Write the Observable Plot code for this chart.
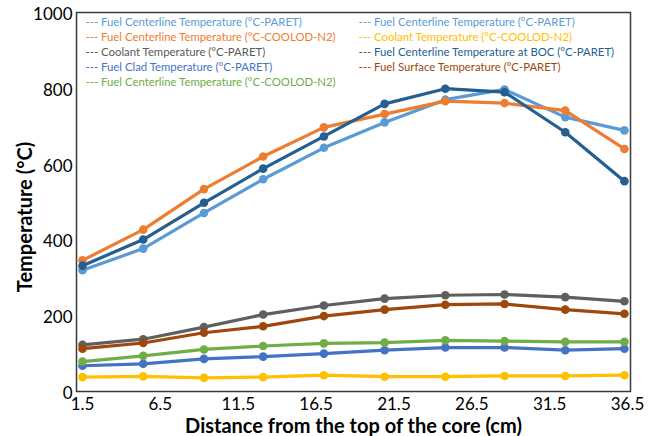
<!DOCTYPE html>
<html>
<head>
<meta charset="utf-8">
<script src="https://cdn.jsdelivr.net/npm/d3@7"></script>
<script src="https://cdn.jsdelivr.net/npm/@observablehq/plot@0.6"></script>
<style>
  html, body { margin: 0; padding: 0; background: #fff; }
  #chart svg { display: block; }
</style>
</head>
<body>
<div id="chart"></div>
<script>
// Distance from the top of the core (cm)
const distance = [1.5, 5.4, 9.3, 13.1, 17.0, 20.9, 24.8, 28.6, 32.5, 36.3];

// Series values (°C)
const fuelCenterlineParet   = [320, 377, 471, 560, 643, 710, 770, 797, 724, 689];
const fuelCenterlineCoolod  = [346, 427, 534, 620, 697, 732, 766, 761, 741, 640];
const fuelCenterlineBOC     = [332, 401, 498, 588, 673, 759, 799, 790, 684, 555];
const coolantParet          = [123, 138, 170, 203, 227, 245, 254, 256, 249, 238];
const fuelSurfaceParet      = [113, 128, 155, 172, 199, 216, 229, 231, 216, 205];
const fuelCenterlineCoolod2 = [79, 94, 111, 120, 127, 129, 135, 133, 131, 131];
const fuelCladParet         = [68, 73, 86, 92, 100, 109, 116, 116, 109, 113];
const coolantCoolod         = [38, 40, 36, 38, 43, 39, 39, 41, 41, 43];

const xTicks = [1.5, 6.5, 11.5, 16.5, 21.5, 26.5, 31.5, 36.5];
const yTicks = [0, 200, 400, 600, 800, 1000];

const seriesNames = ["FC-PARET", "FC-COOLOD", "Coolant-PARET", "Clad-PARET", "FC-COOLOD-2", "Coolant-COOLOD", "FC-BOC", "Surface-PARET"];
const seriesColors = ["#5B9BD5", "#ED7D31", "#5F5F5F", "#4472C4", "#70AD47", "#FFC000", "#255E91", "#9E480E"];
const seriesValues = [fuelCenterlineParet, fuelCenterlineCoolod, coolantParet, fuelCladParet,
                      fuelCenterlineCoolod2, coolantCoolod, fuelCenterlineBOC, fuelSurfaceParet];

// Legend entries (two columns)
const legendCol1 = [
  {label: "--- Fuel Centerline Temperature (°C-PARET)", color: "#5B9BD5"},
  {label: "--- Fuel Centerline Temperature (°C-COOLOD-N2)", color: "#ED7D31"},
  {label: "--- Coolant Temperature (°C-PARET)", color: "#595959"},
  {label: "--- Fuel Clad Temperature (°C-PARET)", color: "#4472C4"},
  {label: "--- Fuel Centerline Temperature (°C-COOLOD-N2)", color: "#70AD47"}
];
const legendCol2 = [
  {label: "--- Fuel Centerline Temperature (°C-PARET)", color: "#5B9BD5"},
  {label: "--- Coolant Temperature (°C-COOLOD-N2)", color: "#FFC000"},
  {label: "--- Fuel Centerline Temperature at BOC (°C-PARET)", color: "#255E91"},
  {label: "--- Fuel Surface Temperature (°C-PARET)", color: "#9E480E"}
];

const rows = [];
seriesNames.forEach((name, si) => {
  seriesValues[si].forEach((v, i) => rows.push({series: name, x: distance[i], y: v}));
});

const FONT = "Lato, 'Open Sans', sans-serif";
const legendMarks = [];
const rowGap = 15.15;
legendCol1.forEach((d, i) => legendMarks.push(Plot.text([d.label], {
  frameAnchor: "top-left", dx: 9, dy: 9.7 + i * rowGap, text: d => d,
  fill: d.color, fontSize: 11.35, textAnchor: "start", lineAnchor: "middle"
})));
legendCol2.forEach((d, i) => legendMarks.push(Plot.text([d.label], {
  frameAnchor: "top-left", dx: 282, dy: 9.7 + i * rowGap, text: d => d,
  fill: d.color, fontSize: 11.35, textAnchor: "start", lineAnchor: "middle"
})));

const chart = Plot.plot({
  width: 657,
  height: 436,
  marginLeft: 76,
  marginRight: 27,
  marginTop: 12,
  marginBottom: 45,
  style: {fontFamily: FONT, background: "#fff", overflow: "visible"},
  x: {domain: [1.115, 36.69]},
  y: {domain: [0, 1000]},
  color: {domain: seriesNames, range: seriesColors},
  marks: [
    Plot.axisX({ticks: xTicks, tickSize: 0, tickPadding: 6, tickFormat: d => String(d),
                fontSize: 17, fill: "#000", label: null}),
    Plot.axisY({ticks: yTicks, tickSize: 0, tickPadding: 4, dy: 2, tickFormat: d => String(d),
                fontSize: 17, fill: "#000", label: null}),
    Plot.text(["Distance from the top of the core (cm)"], {
      frameAnchor: "bottom", dy: 35, lineAnchor: "middle", text: d => d,
      fontSize: 20, fontWeight: "bold", fill: "#000"
    }),
    Plot.text(["Temperature (°C)"], {
      frameAnchor: "left", dx: -51, dy: 15, rotate: -90, textAnchor: "middle", lineAnchor: "middle",
      text: d => d, fontSize: 20, fontWeight: "bold", fill: "#000"
    }),
    Plot.line(rows, {x: "x", y: "y", z: "series", stroke: "series", strokeWidth: 3.2, strokeLinejoin: "round"}),
    Plot.dot(rows, {x: "x", y: "y", fill: "series", r: 4.3}),
    ...legendMarks,
    Plot.frame({stroke: "#3a3a3a", strokeWidth: 1.5})
  ]
});
document.getElementById("chart").appendChild(chart);
</script>
</body>
</html>
